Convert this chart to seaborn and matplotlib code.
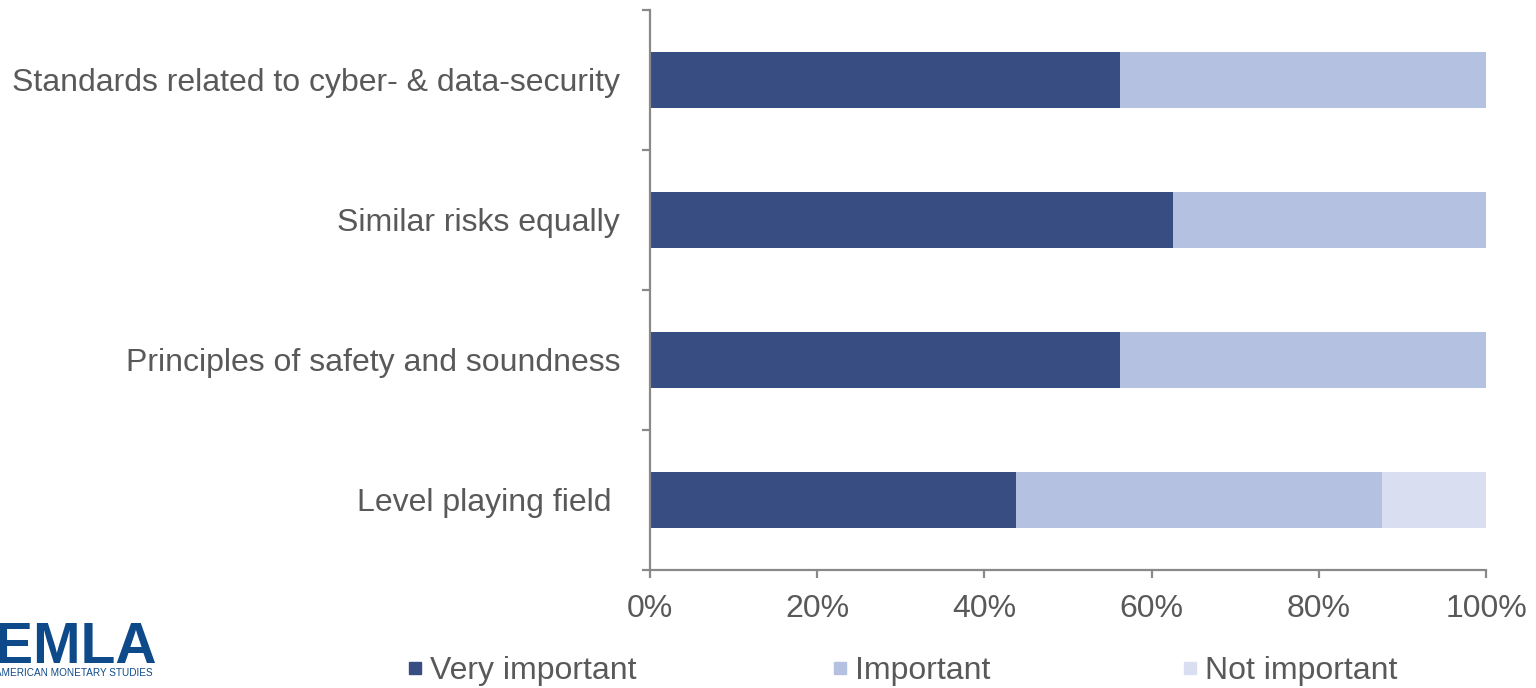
import matplotlib
matplotlib.use("Agg")
import matplotlib.pyplot as plt
from matplotlib.lines import Line2D
import seaborn as sns
import pandas as pd
import numpy as np

# Survey data: share of respondents per rating (percent)
categories = [
    "Standards related to cyber- & data-security",
    "Similar risks equally",
    "Principles of safety and soundness",
    "Level playing field ",
]
very_important = [56.25, 62.5, 56.25, 43.75]
important = [43.75, 37.5, 43.75, 43.75]
not_important = [0.0, 0.0, 0.0, 12.5]

series_names = ["Very important", "Important", "Not important"]
colors = ["#384E82", "#B4C1E0", "#D9DFF0"]
x_ticks = [0, 20, 40, 60, 80, 100]
x_tick_labels = ["0%", "20%", "40%", "60%", "80%", "100%"]

sns.set_theme(style="white")
plt.rcParams["font.family"] = ["Liberation Sans", "DejaVu Sans"]

text_color = "#595959"
axis_color = "#898989"
fs = 23

df = pd.DataFrame({
    "category": categories,
    "v": very_important,
    "i": important,
    "n": not_important,
})
df["cum_v"] = df["v"]
df["cum_i"] = df["v"] + df["i"]
df["cum_n"] = df["v"] + df["i"] + df["n"]

fig = plt.figure(figsize=(15.36, 6.88), dpi=100)
ax = fig.add_axes([650 / 1536, 1 - 570 / 688, 836 / 1536, 560 / 688])

# Stacked bars: draw cumulative totals from the largest down
for col, color in zip(["cum_n", "cum_i", "cum_v"], colors[::-1]):
    sns.barplot(data=df, x=col, y="category", orient="h", color=color,
                width=0.4, ax=ax, saturation=1, linewidth=0, order=categories)

ax.set_xlim(0, 100)
ax.set_ylim(3.5, -0.5)
ax.set_xlabel("")
ax.set_ylabel("")

for side in ["top", "right"]:
    ax.spines[side].set_visible(False)
for side in ["left", "bottom"]:
    ax.spines[side].set_color(axis_color)
    ax.spines[side].set_linewidth(1.6)

ax.set_xticks(x_ticks)
ax.set_xticklabels(x_tick_labels)
ax.tick_params(axis="x", which="major", direction="out", length=5.5, width=1.6,
               color=axis_color, labelsize=fs, labelcolor=text_color, pad=12,
               bottom=True)

ax.set_yticks(range(len(categories)))
ax.set_yticklabels(categories)
ax.tick_params(axis="y", which="major", length=0, labelsize=fs,
               labelcolor=text_color, pad=21.5, left=True)
ax.set_yticks(np.arange(-0.5, len(categories), 1.0), minor=True)
ax.tick_params(axis="y", which="minor", direction="out", length=6, width=1.6,
               color=axis_color, left=True)

# Legend entries placed along the bottom
legend_x = [409 / 1536, 834 / 1536, 1184 / 1536]
for name, color, lx in zip(series_names, colors, legend_x):
    h = Line2D([], [], marker="s", linestyle="none", markersize=8.6,
               markerfacecolor=color, markeredgecolor=color)
    leg = fig.legend(handles=[h], labels=[name], loc="center left",
                     bbox_to_anchor=(lx, 1 - 671 / 688), frameon=False,
                     fontsize=fs, handlelength=0.4, handletextpad=0.25,
                     borderpad=0, borderaxespad=0)
    for t in leg.get_texts():
        t.set_color(text_color)

# Organisation logo text
logo_color = "#0E4A8A"
fig.text(157 / 1536, 1 - 664 / 688, "CEMLA", ha="right", va="baseline",
         fontsize=41, fontweight="bold", color=logo_color)
fig.text(153 / 1536, 1 - 676 / 688, "CENTER FOR LATIN AMERICAN MONETARY STUDIES",
         ha="right", va="baseline", fontsize=7.2, color=logo_color)

fig.savefig("out.png", dpi=100)
